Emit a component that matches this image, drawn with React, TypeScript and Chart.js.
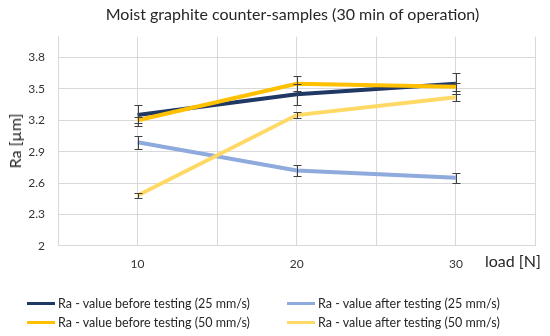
import React, { useEffect, useRef } from "react";
import { Chart, registerables } from "chart.js";

Chart.register(...registerables);

const loads = [10, 20, 30];
const beforeSlow = [3.25, 3.45, 3.55];
const afterSlow = [2.99, 2.72, 2.65];
const beforeFast = [3.2, 3.55, 3.52];
const afterFast = [2.48, 3.25, 3.42];
const errBeforeSlow = [0.1, 0.1, 0.1];
const errAfterSlow = [0.06, 0.05, 0.05];
const errBeforeFast = [0.03, 0.07, 0.04];
const errAfterFast = [0.02, 0.03, 0.035];
const seriesNames = [
  "Ra - value before testing (25 mm/s)",
  "Ra - value after testing (25 mm/s)",
  "Ra - value before testing (50 mm/s)",
  "Ra - value after testing (50 mm/s)",
];
const seriesColors = ["#203864", "#8faadc", "#ffc000", "#ffd966"];
const yTicks = [2, 2.3, 2.6, 2.9, 3.2, 3.5, 3.8];
const xGridTicks = [5, 10, 15, 20, 25, 30, 35];
const xLabelTicks = [10, 20, 30];
const chartTitle = "Moist graphite counter-samples (30 min of operation)";
const yTitle = "Ra [µm]";
const xTitle = "load [N]";

const FONT = "Lato, 'Open Sans', sans-serif";

const errorBarPlugin = {
  id: "errorBars",
  afterDatasetsDraw(chart: any) {
    const ctx = chart.ctx;
    const xs = chart.scales.x;
    const ys = chart.scales.y;
    ctx.save();
    ctx.strokeStyle = "#404040";
    ctx.lineWidth = 1;
    chart.data.datasets.forEach((ds: any) => {
      const errs: number[] = ds.errors || [];
      ds.data.forEach((p: any, i: number) => {
        const e = errs[i];
        if (!e) return;
        const x = Math.round(xs.getPixelForValue(p.x)) + 0.5;
        const yTop = Math.round(ys.getPixelForValue(p.y + e)) + 0.5;
        const yBot = Math.round(ys.getPixelForValue(p.y - e)) + 0.5;
        ctx.beginPath();
        ctx.moveTo(x, yTop);
        ctx.lineTo(x, yBot);
        ctx.moveTo(x - 4, yTop);
        ctx.lineTo(x + 4, yTop);
        ctx.moveTo(x - 4, yBot);
        ctx.lineTo(x + 4, yBot);
        ctx.stroke();
      });
    });
    ctx.restore();
  },
};

export default function App() {
  const ref = useRef<HTMLCanvasElement | null>(null);

  useEffect(() => {
    if (!ref.current) return;
    const values = [beforeSlow, afterSlow, beforeFast, afterFast];
    const errs = [errBeforeSlow, errAfterSlow, errBeforeFast, errAfterFast];
    const chart = new Chart(ref.current, {
      type: "line",
      data: {
        datasets: values.map((vals, k) => ({
          label: seriesNames[k],
          data: loads.map((l, i) => ({ x: l, y: vals[i] })),
          errors: errs[k],
          borderColor: seriesColors[k],
          backgroundColor: seriesColors[k],
          borderWidth: 4,
          pointRadius: 0,
          tension: 0,
          order: 3 - k,
        })) as any,
      },
      options: {
        animation: false,
        responsive: false,
        maintainAspectRatio: false,
        layout: { padding: { top: 36.7, right: 14.5, left: 0, bottom: 0 } },
        plugins: {
          legend: { display: false },
          tooltip: { enabled: false },
          title: { display: false },
        },
        scales: {
          x: {
            type: "linear",
            min: 5,
            max: 35,
            afterBuildTicks: (axis: any) => {
              axis.ticks = xGridTicks.map((v) => ({ value: v }));
            },
            afterFit: (axis: any) => {
              axis.height = 336 - 245.7;
            },
            grid: { color: "#d9d9d9", lineWidth: 1, drawTicks: false },
            border: { color: "#d9d9d9" },
            ticks: {
              autoSkip: false,
              maxRotation: 0,
              padding: 11,
              color: "#333333",
              font: { family: FONT, size: 12 },
              callback: (v: any) => (xLabelTicks.includes(Number(v)) ? String(v) : ""),
            },
          },
          y: {
            type: "linear",
            min: 2,
            max: 4,
            afterBuildTicks: (axis: any) => {
              axis.ticks = yTicks.map((v) => ({ value: v }));
            },
            afterFit: (axis: any) => {
              axis.width = 58;
            },
            grid: { color: "#d9d9d9", lineWidth: 1, drawTicks: false },
            border: { color: "#d9d9d9" },
            ticks: {
              padding: 13,
              color: "#333333",
              font: { family: FONT, size: 12 },
              callback: (v: any) => String(Number(v)),
            },
          },
        },
      },
      plugins: [errorBarPlugin],
    } as any);
    return () => chart.destroy();
  }, []);

  const legendItem = (k: number, left: number, top: number) => (
    <div
      key={k}
      style={{ position: "absolute", left, top, height: 18, display: "flex", alignItems: "center", whiteSpace: "nowrap" }}
    >
      <span style={{ display: "inline-block", width: 28, height: 3, background: seriesColors[k], marginRight: 3 }} />
      <span style={{ fontSize: 12.5, color: "#262626" }}>{seriesNames[k]}</span>
    </div>
  );

  return (
    <div
      style={{
        position: "fixed",
        left: 0,
        top: 0,
        width: 550,
        height: 336,
        background: "#ffffff",
        fontFamily: FONT,
        overflow: "hidden",
      }}
    >
      <canvas ref={ref} width={550} height={336} style={{ position: "absolute", left: 0, top: 0, width: 550, height: 336 }} />
      <div style={{ position: "absolute", left: 0, width: 585, top: 4, textAlign: "center", fontSize: 16, color: "#262626", lineHeight: "20px" }}>
        {chartTitle}
      </div>
      <div
        style={{
          position: "absolute",
          left: 14.5,
          top: 141,
          transform: "translate(-50%, -50%) rotate(-90deg)",
          fontSize: 16,
          color: "#262626",
          whiteSpace: "nowrap",
          lineHeight: "20px",
        }}
      >
        {yTitle}
      </div>
      <div style={{ position: "absolute", left: 485, top: 251, fontSize: 16, color: "#262626", lineHeight: "20px", whiteSpace: "nowrap" }}>
        {xTitle}
      </div>
      {legendItem(0, 27, 294)}
      {legendItem(1, 287, 294)}
      {legendItem(2, 27, 313)}
      {legendItem(3, 287, 313)}
    </div>
  );
}
